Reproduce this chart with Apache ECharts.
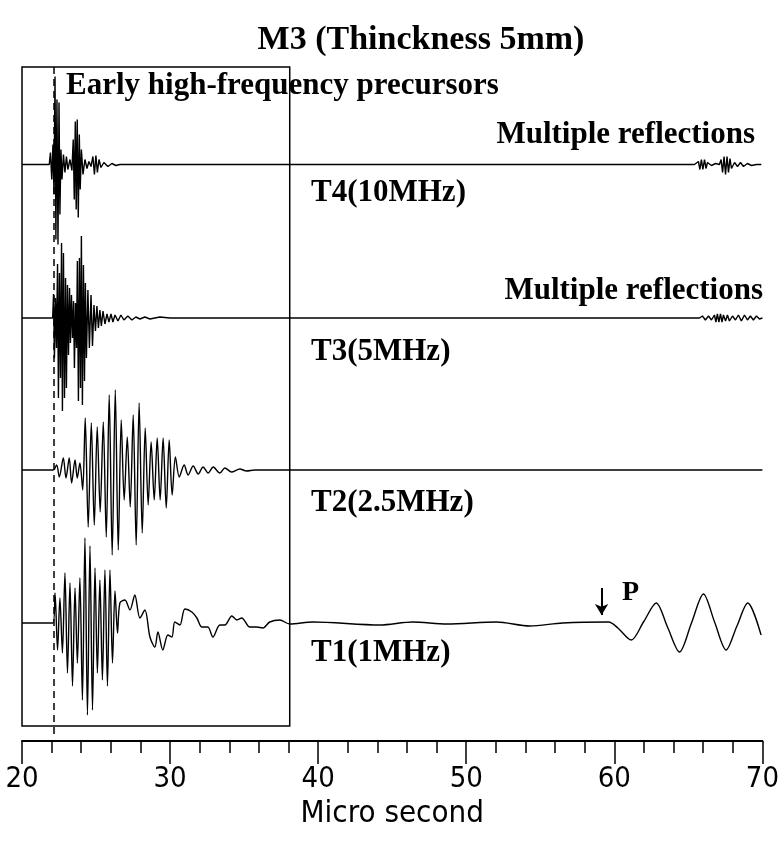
<!DOCTYPE html>
<html>
<head>
<meta charset="utf-8">
<script src="https://cdn.jsdelivr.net/npm/echarts@6/dist/echarts.min.js"></script>
<style>
  html, body { margin: 0; padding: 0; background: #fff; }
  #chart { width: 782px; height: 852px; }
</style>
</head>
<body>
<div id="chart"></div>
<script>
// x axis (micro second)
var xTicks = [20, 30, 40, 50, 60, 70];

// trace names and baseline offsets (arbitrary amplitude units)
var traceNames = ['T1(1MHz)', 'T2(2.5MHz)', 'T3(5MHz)', 'T4(10MHz)'];
var traceOffsets = [0, 15.3, 30.5, 45.85];

// [time (us), amplitude]
var t1Wave = [
    [20, 0], [22.09, 0], [22.23, 3.0], [22.40, -2.7], [22.56, 2.5], [22.73, -3.0], [22.90, 5.0], [23.07, -5.0],
    [23.24, 4.0], [23.41, -6.3], [23.58, 3.5], [23.74, -4.0], [23.91, 4.5], [24.08, -7.7], [24.25, 8.5], [24.42, -9.2],
    [24.59, 7.7], [24.76, -8.7], [24.93, 5.5], [25.09, -5.0], [25.26, 4.3], [25.43, -5.7], [25.60, 5.3], [25.77, -6.3],
    [25.94, 5.3], [26.11, -4.0], [26.28, 3.2], [26.45, -1.0], [26.61, 2.0],
    [26.95, 2.3], [27.29, 1.3], [27.62, 2.8], [27.96, 0.5], [28.30, 1.3], [28.64, -1.4], [28.97, -2.4], [29.18, -0.9],
    [29.51, -2.7], [29.85, -1.2], [30.12, -1.4], [30.32, 0.1], [30.66, -0.2], [31.00, 1.4], [31.47, 1.1], [31.81, 0.5],
    [32.15, -0.4], [32.55, -0.4], [32.89, -1.4], [33.36, -0.2], [33.70, -0.2], [34.17, 0.7], [34.51, 0.3], [34.84, 0.5],
    [35.38, -0.4], [35.86, -0.4], [36.26, -0.5], [36.73, 0.1], [37.41, 0.3], [38.08, -0.1],
    [39.64, 0.1], [44.16, -0.2], [46.38, 0.1], [48.68, -0.1], [52.05, 0.1], [54.28, -0.3], [56.51, 0],
    [59.61, 0.1], [60.24, -0.5], [61.14, -1.7], [61.97, 0.1], [62.83, 2.0], [63.59, -0.4], [64.40, -2.9],
    [65.21, 0], [66.02, 2.9], [66.77, 0.1], [67.55, -2.7], [68.28, -0.3], [69.01, 2.0], [69.91, -1.2]
];

var t2Wave = [
    [20, 0], [22.11, 0], [22.34, 0.5], [22.52, -0.7], [22.79, 1.2], [22.97, -0.8], [23.19, 1.2], [23.35, -1.3],
    [23.58, 1.0], [23.73, -0.8], [23.91, 0.7], [24.10, -2.0], [24.27, 5.2], [24.47, -5.7], [24.68, 4.7], [24.88, -5.5],
    [25.08, 4.3], [25.28, -4.2], [25.49, 4.8], [25.69, -6.7], [25.89, 7.5], [26.09, -8.5], [26.30, 8.0], [26.50, -8.0],
    [26.70, 5.0], [26.90, -3.0], [27.11, 3.3], [27.31, -3.7], [27.51, 5.5], [27.71, -7.5], [27.91, 6.7], [28.12, -6.3],
    [28.32, 4.2], [28.52, -3.5], [28.72, 2.8], [28.93, -3.0], [29.13, 3.2], [29.33, -3.0], [29.53, 3.2], [29.74, -3.8],
    [29.94, 3.0], [30.14, -2.5], [30.36, 1.3], [30.62, -0.7], [30.95, 0.5], [31.22, -0.5], [31.56, 0.4], [31.90, -0.4],
    [32.23, 0.3], [32.57, -0.3], [32.91, 0.3], [33.36, -0.3], [33.70, 0.2], [34.15, -0.2], [34.71, 0.1], [35.16, -0.1],
    [35.72, 0], [70, 0]
];

var t3Wave = [
    [20, 0], [22.07, 0], [22.13, 2.4], [22.19, -4.0], [22.26, 2.0], [22.33, -3.0], [22.40, 5.4], [22.46, -8.0],
    [22.53, 4.5], [22.60, -6.0], [22.67, 7.5], [22.73, -9.3], [22.80, 6.5], [22.87, -8.0], [22.94, 4.0], [23.00, -7.0],
    [23.07, 3.3], [23.14, -3.7], [23.21, 3.0], [23.27, -2.5], [23.34, 2.3], [23.41, -2.0], [23.48, 1.7], [23.54, -5.0],
    [23.61, 1.5], [23.68, -3.0], [23.74, 5.7], [23.81, -8.3], [23.88, 6.0], [23.95, -7.0], [24.01, 8.2], [24.08, -8.7],
    [24.15, 5.3], [24.22, -6.3], [24.28, 3.5], [24.35, -4.0], [24.45, 2.8], [24.55, -3.0], [24.66, 2.3], [24.76, -2.8],
    [24.86, 1.3], [24.96, -1.3], [25.06, 1.2], [25.16, -1.0], [25.26, 0.8], [25.36, -0.8], [25.47, 0.7], [25.60, -0.6],
    [25.74, 0.4], [25.87, -0.4], [26.01, 0.4], [26.14, -0.4], [26.28, 0.3], [26.48, -0.3], [26.68, 0.3], [26.88, -0.2],
    [27.15, 0.2], [27.42, -0.2], [27.69, 0.1], [27.96, -0.1], [28.30, 0.1], [28.64, -0.1], [29.31, 0.1], [29.99, 0],
    [65.75, 0], [65.95, 0.2], [66.15, -0.2], [66.36, 0.2], [66.56, -0.2], [66.76, 0.3], [66.86, -0.4], [66.96, 0.4],
    [67.06, -0.4], [67.17, 0.4], [67.27, -0.4], [67.37, 0.3], [67.51, -0.3], [67.64, 0.3], [67.77, -0.3], [67.98, 0.2],
    [68.18, -0.2], [68.38, 0.3], [68.58, -0.3], [68.79, 0.3], [68.99, -0.2], [69.19, 0.2], [69.39, -0.2], [69.60, 0.2],
    [69.80, -0.1], [70, 0]
];

var t4Wave = [
    [20, 0], [21.84, 0], [21.92, 1.2], [22.01, -1.5], [22.09, 2.0], [22.16, -3.0], [22.23, 8.8], [22.29, -7.5],
    [22.36, 6.5], [22.43, -8.0], [22.50, 6.2], [22.56, -5.0], [22.63, 1.5], [22.70, -1.5], [22.80, 1.0], [22.90, -0.8],
    [23.00, 0.8], [23.10, -0.5], [23.24, 0.5], [23.37, -0.6], [23.46, 2.5], [23.53, -3.5], [23.60, 4.3], [23.66, -4.5],
    [23.73, 4.5], [23.80, -5.3], [23.87, 3.0], [23.93, -2.5], [24.01, 1.5], [24.12, -1.0], [24.25, 0.5], [24.39, -0.4],
    [24.52, 0.3], [24.66, -0.2], [24.79, 0.8], [24.89, -1.0], [24.99, 0.9], [25.09, -0.8], [25.20, 0.5], [25.33, -0.3],
    [25.53, 0.2], [25.80, -0.2], [26.07, 0.1], [26.34, -0.1], [26.61, 0],
    [65.41, 0], [65.68, 0.3], [65.78, -0.5], [65.88, 0.5], [65.98, -0.5], [66.09, 0.5], [66.19, -0.4], [66.29, 0.2],
    [66.56, -0.1], [66.83, 0.1], [67.10, 0], [67.21, 0.5], [67.31, -0.8], [67.41, 0.8], [67.51, -1.0], [67.61, 0.8],
    [67.71, -0.8], [67.81, 0.6], [67.91, -0.4], [68.12, 0.2], [68.32, -0.2], [68.52, 0.2], [68.72, -0.2], [68.99, 0.1],
    [69.26, -0.1], [69.60, 0], [69.93, 0]
];

// box around the early part, dashed onset line, P arrival arrow
var boxRange = [[19.82, -10.3], [38.08, 55.6]];
var onsetTime = 22.16;
var arrowTime = 59.14;
var arrowAmp = [3.5, 0.8];

var waves = [t1Wave, t2Wave, t3Wave, t4Wave];
var smoothing = [0.3, 0.3, 0, 0];

var serif = '"Liberation Serif", "Times New Roman", serif';
var narrow = '"Liberation Sans Narrow", "DejaVu Sans Condensed", "Liberation Sans", sans-serif';

function eachItem(arr, fn) {
    for (var i = 0; i < arr.length; i++) fn(i, arr[i]);
}

var series = [];
eachItem(waves, function (i, wave) {
    series.push({
        name: traceNames[i],
        type: 'line',
        data: wave.map(function (p) { return [p[0], p[1] + traceOffsets[i]]; }),
        showSymbol: false,
        smooth: smoothing[i],
        clip: false,
        lineStyle: {color: '#000', width: 1.4},
        z: 3
    });
});

// marks on first series
series[0].markArea = {
    silent: true,
    label: {show: false},
    itemStyle: {color: 'rgba(0,0,0,0)', borderColor: '#000', borderWidth: 1.5},
    data: [[{coord: boxRange[0]}, {coord: boxRange[1]}]]
};
series[0].markLine = {
    silent: true,
    animation: false,
    label: {show: false},
    data: [
        [{coord: [onsetTime, boxRange[1][1]], symbol: 'none'},
         {coord: [onsetTime, -11.3], symbol: 'none', lineStyle: {color: '#000', width: 1.5, type: [7, 5]}}],
        [{coord: [arrowTime, arrowAmp[0]], symbol: 'none'},
         {coord: [arrowTime, arrowAmp[1]], symbol: 'arrow', symbolSize: [10, 11], lineStyle: {color: '#000', width: 2, type: 'solid'}}]
    ]
};

function label(text, x, y, align, size) {
    return {
        type: 'text',
        x: x,
        y: y,
        silent: true,
        style: {
            text: text,
            font: 'bold ' + (size || 31) + 'px ' + serif,
            fill: '#000',
            textAlign: align || 'left',
            textVerticalAlign: 'middle',
            align: align || 'left',
            verticalAlign: 'middle'
        }
    };
}

var chart = echarts.init(document.getElementById('chart'));
chart.setOption({
    backgroundColor: '#fff',
    animation: false,
    title: {
        text: 'M3 (Thinckness 5mm)',
        left: 416,
        top: 18,
        textAlign: 'center',
        textStyle: {fontFamily: serif, fontWeight: 'bold', fontSize: 34, color: '#000'}
    },
    grid: {left: 22, right: 19, top: 57, bottom: 111},
    xAxis: {
        type: 'value',
        min: xTicks[0],
        max: xTicks[xTicks.length - 1],
        interval: 10,
        name: 'Micro second',
        nameLocation: 'middle',
        nameGap: 54,
        nameTextStyle: {fontFamily: narrow, fontSize: 31, color: '#000'},
        axisLine: {onZero: false, lineStyle: {color: '#000', width: 2}},
        axisTick: {length: 23, lineStyle: {color: '#000', width: 1.5}},
        minorTick: {show: true, splitNumber: 5, length: 12, lineStyle: {color: '#000', width: 1.5}},
        splitLine: {show: false},
        axisLabel: {margin: 24, fontFamily: narrow, fontSize: 29, color: '#000'}
    },
    yAxis: {
        type: 'value',
        min: -11.8,
        max: 56.6,
        show: false,
        splitLine: {show: false}
    },
    series: series,
    graphic: [
        label('Early high-frequency precursors', 66, 86, 'left'),
        label('Multiple reflections', 755, 135, 'right'),
        label(traceNames[3], 311, 193, 'left'),
        label('Multiple reflections', 763, 291, 'right'),
        label(traceNames[2], 311, 352, 'left'),
        label(traceNames[1], 311, 503, 'left'),
        label(traceNames[0], 311, 653, 'left'),
        label('P', 622, 593, 'left', 28)
    ]
});
</script>
</body>
</html>
